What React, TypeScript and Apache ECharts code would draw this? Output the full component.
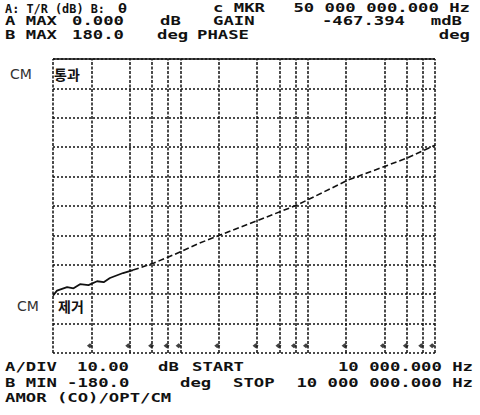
import React, { useEffect, useRef } from "react";
import * as echarts from "echarts";

// Trace: frequency (Hz) vs gain (dB)
const freqHz = [10000, 10750, 12900, 14500, 16300, 19000, 22200, 25000, 28000, 35500, 42500, 62000, 87500, 142000, 205000, 824000, 2070000, 6030000, 10000000];
const gainDb = [-80.5, -78.8, -77.6, -78.0, -76.6, -76.9, -75.6, -75.9, -74.5, -72.8, -71.8, -69.4, -66.7, -62.6, -59.9, -49.7, -41.2, -33.7, -29.3];
const solidUntil = 10; // noisy solid part ends here, dashed part follows

// Vertical graticule lines (log frequency axis)
const gridFreqs = [10000, 20000, 40000, 60000, 80000, 100000, 200000, 400000, 600000, 800000, 1000000, 2000000, 4000000, 6000000, 8000000, 10000000];
// small marks near the bottom of the graticule
const markFreqs = [19500, 39000, 59000, 78000, 97000, 195000, 390000, 590000, 780000, 970000, 1950000, 3900000, 5900000, 7800000, 9500000];
const markLevel = -97.5;
const topLevel = 0;

// header / footer texts: [text, x, align, width?]
const headerRows = [
  [["A: T/R (dB) B:", 5, "l", 100], ["θ", 118, "l", 9], ["c MKR", 213, "l"], ["50 000 000.000 Hz", 470, "r"]],
  [["A MAX", 5, "l"], ["0.000", 72, "l"], ["dB", 160, "l"], ["GAIN", 213, "l"], ["-467.394", 405, "r"], ["mdB", 462, "r"]],
  [["B MAX", 5, "l"], ["180.0", 72, "l"], ["deg", 157, "l"], ["PHASE", 197, "l"], ["deg", 470, "r"]],
];
const headerY = [8, 21, 35];
const footerRows = [
  [["A/DIV", 5, "l"], ["10.00", 77, "l"], ["dB", 158, "l"], ["START", 192, "l"], ["10 000.000 Hz", 473, "r"]],
  [["B MIN", 5, "l"], ["-180.0", 67, "l"], ["deg", 180, "l"], ["STOP", 233, "l"], ["10 000 000.000 Hz", 473, "r"]],
  [["AMOR (CO)/OPT/CM", 5, "l"]],
];
const footerY = [367, 383, 398];

const cmLabels = [
  { cm: "CM", word: "통과", y: 74, cmX: 10, wordX: 54 },
  { cm: "CM", word: "제거", y: 306, cmX: 17, wordX: 58 },
];

export default function App() {
  const ref = useRef<HTMLDivElement>(null);
  useEffect(() => {
    if (!ref.current) return;
    const chart = echarts.init(ref.current, null, { renderer: "svg" });
    const FS = 13;
    const CW = FS * 0.602;
    const PITCH = 10.4;
    const mono = `bold ${FS}px "DejaVu Sans Mono"`;
    const texts: any[] = [];
    const addRows = (rows: any[], ys: number[]) => {
      rows.forEach((row: any[], i: number) => {
        row.forEach(([t, x, a, w]: any) => {
          const width = w ?? t.length * PITCH;
          texts.push({
            type: "text",
            x,
            y: ys[i],
            scaleX: width / (t.length * CW),
            style: {
              text: t,
              font: mono,
              fill: "#111",
              align: a === "r" ? "right" : "left",
              verticalAlign: "middle",
            },
          });
        });
      });
    };
    addRows(headerRows, headerY);
    addRows(footerRows, footerY);
    cmLabels.forEach((c) => {
      texts.push({
        type: "text",
        x: c.cmX,
        y: c.y,
        style: { text: c.cm, font: `14px "DejaVu Sans"`, fill: "#333", verticalAlign: "middle" },
      });
      texts.push({
        type: "text",
        x: c.wordX,
        y: c.y,
        style: { text: c.word, font: `bold 14px "Noto Sans CJK KR"`, fill: "#111", verticalAlign: "middle" },
      });
    });

    const hDotted = { type: [2, 2] as any, color: "#111", width: 1.5 };
    const vDotted = { type: [3, 1.5] as any, color: "#111", width: 1.5 };
    const solidData = freqHz.slice(0, solidUntil + 1).map((f, i) => [f, gainDb[i]]);
    const dashedData = freqHz.slice(solidUntil).map((f, i) => [f, gainDb[i + solidUntil]]);

    chart.setOption({
      animation: false,
      backgroundColor: "#fff",
      grid: { left: 53, right: 45, top: 59, bottom: 62 },
      xAxis: {
        type: "log",
        logBase: 10,
        min: 10000,
        max: 10000000,
        axisLine: { show: false },
        axisTick: { show: false },
        axisLabel: { show: false },
        splitLine: { show: false },
      },
      yAxis: {
        type: "value",
        min: -100,
        max: 0,
        interval: 10,
        axisLine: { show: false },
        axisTick: { show: false },
        axisLabel: { show: false },
        splitLine: { show: true, lineStyle: hDotted },
      },
      graphic: texts,
      series: [
        {
          type: "scatter",
          data: markFreqs.map((f) => [f, markLevel]),
          symbol: "diamond",
          symbolSize: [6, 5],
          itemStyle: { color: "#111" },
          silent: true,
          markLine: {
            silent: true,
            symbol: ["none", "none"],
            label: { show: false },
            lineStyle: vDotted,
            data: [
              ...gridFreqs.map((f) => ({ xAxis: f })),
              { yAxis: topLevel, lineStyle: { type: "solid", color: "#111", width: 1.5 } },
            ],
          },
        },
        {
          type: "line",
          data: solidData,
          showSymbol: false,
          lineStyle: { color: "#111", width: 1.8 },
          z: 5,
        },
        {
          type: "line",
          data: dashedData,
          showSymbol: false,
          lineStyle: { color: "#111", width: 1.6, type: [6, 3] },
          z: 5,
        },
      ],
    });
    return () => chart.dispose();
  }, []);
  return (
    <div
      ref={ref}
      style={{ position: "fixed", left: 0, top: 0, width: 480, height: 415, background: "#fff" }}
    />
  );
}
